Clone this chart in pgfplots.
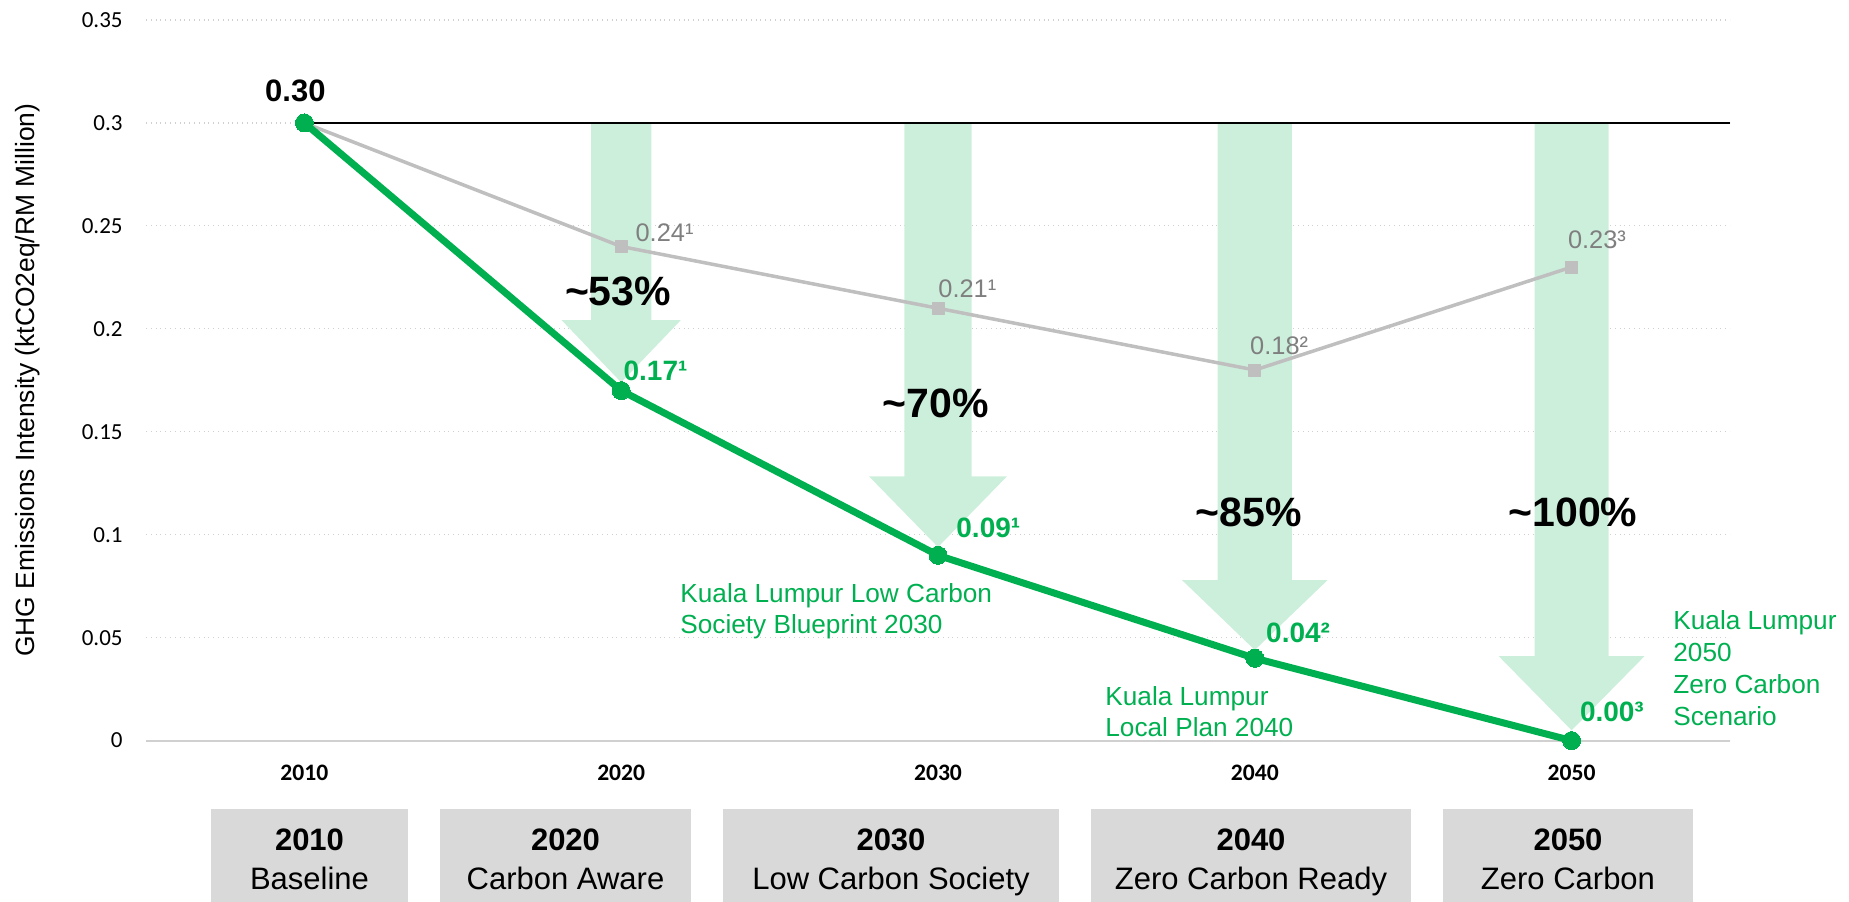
\documentclass[border=0pt]{standalone}
\usepackage{pgfplots}
\usepackage{pgfplotstable}
\pgfplotsset{compat=1.18}
\usepackage{fontspec}
\setmainfont{Liberation Sans}
\newfontfamily\calibri{Carlito}
\definecolor{kgreen}{HTML}{00B050}
\definecolor{arrowgreen}{HTML}{CCEFDC}
\definecolor{linegray}{HTML}{BFBFBF}
\definecolor{txtgray}{HTML}{7F7F7F}
\definecolor{boxgray}{HTML}{D9D9D9}
\definecolor{gridgray}{HTML}{D0D0D0}

\pgfplotstableread{
year val
2010 0.30
2020 0.17
2030 0.09
2040 0.04
2050 0.00
}\greendata
\pgfplotstableread{
year val
2010 0.30
2020 0.24
2030 0.21
2040 0.18
2050 0.23
}\graydata

\begin{document}
\begin{tikzpicture}
\useasboundingbox (0,0) rectangle (924.5pt,-450.5pt);
\begin{axis}[
  at={(73pt,-370.3pt)}, anchor=south west,
  width=792pt, height=360.3pt, scale only axis,
  xmin=2005, xmax=2055, ymin=0, ymax=0.35,
  clip=false,
  axis line style={draw=none},
  major tick length=0pt,
  xtick={2010,2020,2030,2040,2050},
  xticklabels={2010,2020,2030,2040,2050},
  ytick={0,0.05,0.1,0.15,0.2,0.25,0.3,0.35},
  yticklabels={0,0.05,0.1,0.15,0.2,0.25,0.3,0.35},
  yticklabel style={font=\calibri\fontsize{11.5}{12}\selectfont, inner sep=0pt, anchor=east, xshift=-11.5pt},
  xticklabel style={font=\calibri\bfseries\fontsize{11.8}{12}\selectfont, inner sep=0pt, anchor=north, yshift=-12pt},
  ymajorgrids, grid style={gridgray, dotted, line width=0.6pt},
  ylabel={GHG Emissions Intensity (ktCO2eq/RM Million)},
  ylabel style={font=\fontsize{13.2}{14}\selectfont, at={(axis description cs:-0.0745,0.5)}, anchor=center, inner sep=0pt},
]
% zero line
\draw[gridgray, line width=1pt] (axis cs:2005,0) -- (axis cs:2055,0);
% reduction arrows
\fill[arrowgreen] (axis cs:2019.05,0.3) -- (axis cs:2020.95,0.3) -- (axis cs:2020.95,0.2042) -- (axis cs:2021.88,0.2042) -- (axis cs:2020,0.174) -- (axis cs:2018.12,0.2042) -- (axis cs:2019.05,0.2042) -- cycle;
\fill[arrowgreen] (axis cs:2028.94,0.3) -- (axis cs:2031.06,0.3) -- (axis cs:2031.06,0.1284) -- (axis cs:2032.18,0.1284) -- (axis cs:2030,0.094) -- (axis cs:2027.82,0.1284) -- (axis cs:2028.94,0.1284) -- cycle;
\fill[arrowgreen] (axis cs:2038.83,0.3) -- (axis cs:2041.17,0.3) -- (axis cs:2041.17,0.078) -- (axis cs:2042.3,0.078) -- (axis cs:2040,0.044) -- (axis cs:2037.7,0.078) -- (axis cs:2038.83,0.078) -- cycle;
\fill[arrowgreen] (axis cs:2048.83,0.3) -- (axis cs:2051.17,0.3) -- (axis cs:2051.17,0.041) -- (axis cs:2052.3,0.041) -- (axis cs:2050,0.005) -- (axis cs:2047.7,0.041) -- (axis cs:2048.83,0.041) -- cycle;
% series
\addplot[linegray, line width=1.75pt, line join=round, mark=square*, mark size=3pt, mark options={fill=linegray, draw=linegray, line width=0.5pt, rounded corners=0.8pt}] table[x=year,y=val]{\graydata};
\addplot[black, line width=1.35pt] coordinates {(2010,0.3) (2055,0.3)};
\addplot[kgreen, line width=3.5pt, line join=round, mark=*, mark size=4.5pt, mark options={fill=kgreen, draw=kgreen, line width=0pt}] table[x=year,y=val]{\greendata};
% value labels
\node[font=\bfseries\fontsize{15.5}{16}\selectfont, inner sep=0pt, xshift=-4.5pt, yshift=16pt] at (axis cs:2010,0.3) {0.30};
\node[kgreen, font=\bfseries\fontsize{14}{15}\selectfont, inner sep=0pt, anchor=west, xshift=1pt, yshift=10pt] at (axis cs:2020,0.17) {0.17¹};
\node[kgreen, font=\bfseries\fontsize{14}{15}\selectfont, inner sep=0pt, anchor=west, xshift=9pt, yshift=13.5pt] at (axis cs:2030,0.09) {0.09¹};
\node[kgreen, font=\bfseries\fontsize{14}{15}\selectfont, inner sep=0pt, anchor=west, xshift=5.5pt, yshift=12.5pt] at (axis cs:2040,0.04) {0.04²};
\node[kgreen, font=\bfseries\fontsize{14}{15}\selectfont, inner sep=0pt, anchor=west, xshift=4pt, yshift=14.5pt] at (axis cs:2050,0.00) {0.00³};
\node[txtgray, font=\fontsize{12.7}{13}\selectfont, inner sep=0pt, anchor=west, xshift=7pt, yshift=7pt] at (axis cs:2020,0.24) {0.24¹};
\node[txtgray, font=\fontsize{12.7}{13}\selectfont, inner sep=0pt, anchor=west, xshift=0pt, yshift=9.5pt] at (axis cs:2030,0.21) {0.21¹};
\node[txtgray, font=\fontsize{12.7}{13}\selectfont, inner sep=0pt, anchor=west, xshift=-2.5pt, yshift=12pt] at (axis cs:2040,0.18) {0.18²};
\node[txtgray, font=\fontsize{12.7}{13}\selectfont, inner sep=0pt, anchor=west, xshift=-2pt, yshift=13.5pt] at (axis cs:2050,0.23) {0.23³};
% percentage labels
\node[font=\bfseries\fontsize{20.5}{22}\selectfont, inner sep=0pt] at (axis cs:2019.9,0.2183) {\textasciitilde53\%};
\node[font=\bfseries\fontsize{20.5}{22}\selectfont, inner sep=0pt] at (axis cs:2029.92,0.1639) {\textasciitilde70\%};
\node[font=\bfseries\fontsize{20.5}{22}\selectfont, inner sep=0pt] at (axis cs:2039.81,0.111) {\textasciitilde85\%};
\node[font=\bfseries\fontsize{20.5}{22}\selectfont, inner sep=0pt] at (axis cs:2050.04,0.111) {\textasciitilde100\%};
\end{axis}
\begin{scope}[x=0.5pt,y=-0.5pt]
\node[kgreen, anchor=north west, align=left, inner sep=0pt, font=\fontsize{13.1}{15.5}\selectfont] at (680,583) {Kuala Lumpur Low Carbon\\Society Blueprint 2030};
\node[kgreen, anchor=north west, align=left, inner sep=0pt, font=\fontsize{13.1}{15.5}\selectfont] at (1105,686) {Kuala Lumpur\\Local Plan 2040};
\node[kgreen, anchor=north west, align=left, inner sep=0pt, font=\fontsize{13.1}{16}\selectfont] at (1673,610) {Kuala Lumpur\\2050\\Zero Carbon\\Scenario};
% stage boxes
\fill[boxgray] (211,809) rectangle (408,935);
\fill[boxgray] (440,809) rectangle (691,935);
\fill[boxgray] (723,809) rectangle (1059,935);
\fill[boxgray] (1091,809) rectangle (1411,935);
\fill[boxgray] (1443,809) rectangle (1693,935);
\foreach \cx/\yr/\nm in {309.5/2010/Baseline, 565.5/2020/Carbon Aware, 891/2030/Low Carbon Society, 1251/2040/Zero Carbon Ready, 1568/2050/Zero Carbon}{
  \node[anchor=base, inner sep=0pt, font=\bfseries\fontsize{15.5}{16}\selectfont] at (\cx,850) {\yr};
  \node[anchor=base, inner sep=0pt, font=\fontsize{15.5}{16}\selectfont] at (\cx,889) {\nm};
}
\end{scope}
\end{tikzpicture}
\end{document}
